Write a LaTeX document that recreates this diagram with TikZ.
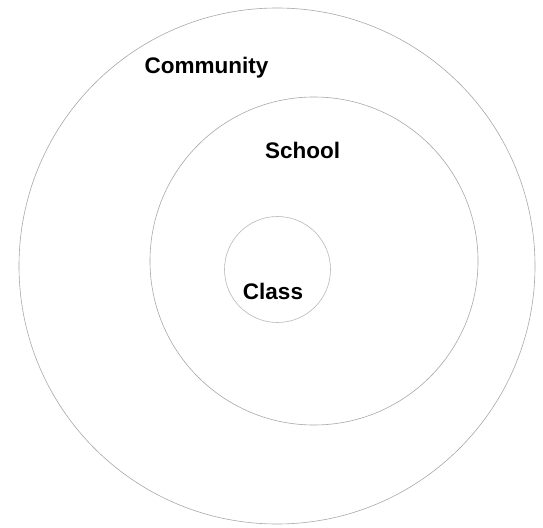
\documentclass[tikz,border=0pt]{standalone}
\usepackage{fontspec}
\setmainfont{Liberation Sans}
\usepackage{tikz}
\usetikzlibrary{positioning}
\definecolor{ringgray}{HTML}{A8A8A8}

\begin{document}
\begin{tikzpicture}[x=1pt, y=-1pt,
  ring/.style={draw=ringgray, line width=0.6pt},
  lbl/.style={font=\fontsize{22.5}{27}\selectfont\bfseries, anchor=base, inner sep=0pt}
]
  \useasboundingbox (0,0) rectangle (543,527);

  \draw[ring] (277,266) circle (258pt);
  \draw[ring] (314,261) circle (164pt);
  \draw[ring, draw=ringgray!80] (277.5,269.5) circle (53pt);

  \node[lbl] (community) at (206.5,74) {Community};
  \node[lbl] (school) at (302.5,158) {School};
  \node[lbl] (class) at (273,299) {Class};
\end{tikzpicture}
\end{document}
